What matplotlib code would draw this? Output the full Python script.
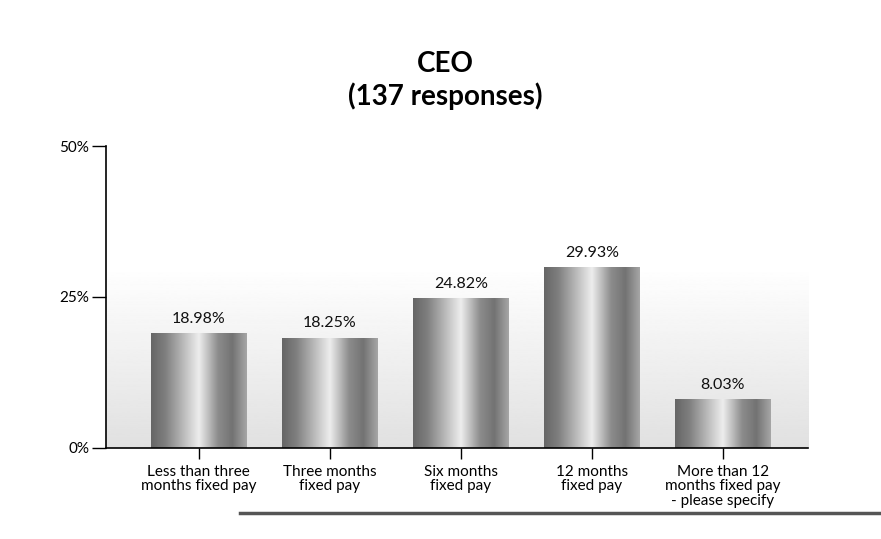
import numpy as np
import matplotlib.pyplot as plt
from matplotlib.lines import Line2D

plt.rcParams['font.family'] = ['Lato', 'DejaVu Sans']

# data
categories = ['Less than three\nmonths fixed pay', 'Three months\nfixed pay',
              'Six months\nfixed pay', '12 months\nfixed pay',
              'More than 12\nmonths fixed pay\n- please specify']
values = [18.98, 18.25, 24.82, 29.93, 8.03]
yticks = [0, 25, 50]
ytick_labels = ['0%', '25%', '50%']

fig = plt.figure(figsize=(8.81, 5.39), dpi=100)
ax = fig.add_axes([0.120, 0.169, 0.797, 0.560])

x = np.arange(len(categories))
width = 0.73
ax.set_xlim(-0.71, 4.65)
ax.set_ylim(0, 50)

# light shaded background near the bottom of the plot
bg = np.linspace(0.88, 1.0, 256).reshape(-1, 1)
ax.imshow(bg, cmap='gray', vmin=0, vmax=1, aspect='auto', origin='lower',
          extent=(-0.71, 4.65, 0, 30), zorder=0)

# cylinder-like grey gradient for the bars
t = np.linspace(0, 1, 200)
shade = np.interp(t, [0, 0.15, 0.5, 0.7, 0.85, 1.0], [0.4, 0.5, 0.93, 0.55, 0.45, 0.65])
grad = shade.reshape(1, -1)

bars = ax.bar(x, values, width=width, color='none', edgecolor='none', zorder=2)
for b, v in zip(bars, values):
    im = ax.imshow(grad, cmap='gray', vmin=0, vmax=1, aspect='auto',
                   extent=(b.get_x(), b.get_x() + width, 0, v), zorder=2)
    im.set_clip_path(b)
    ax.text(b.get_x() + width / 2, v + 1.2, f'{v:.2f}%', ha='center', va='bottom',
            fontsize=11.5, color='#111111', zorder=3)

ax.set_xticks(x)
ax.set_xticklabels(categories, fontsize=11, linespacing=1.05)
ax.set_yticks(yticks)
ax.set_yticklabels(ytick_labels, fontsize=11)
ax.tick_params(axis='x', length=8, width=1, pad=4)
ax.tick_params(axis='y', length=10, width=1, pad=2)

for s in ['top', 'right']:
    ax.spines[s].set_visible(False)
ax.spines['left'].set_linewidth(1.2)
ax.spines['bottom'].set_linewidth(1.2)

fig.text(0.505, 0.85, 'CEO\n(137 responses)', ha='center', va='center',
         fontsize=20, fontweight='bold', linespacing=1.25)

# decorative rule at the bottom of the page
fig.add_artist(Line2D([0.272, 1.0], [0.048, 0.048], color='#555555', lw=2.5))

fig.savefig('out.png', dpi=100)
